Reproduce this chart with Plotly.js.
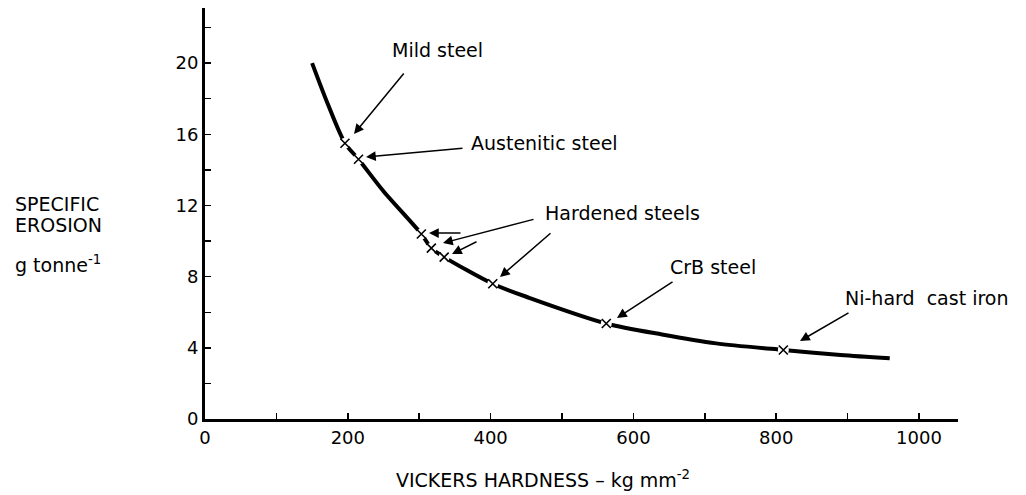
<!DOCTYPE html>
<html>
<head>
<meta charset="utf-8">
<script src="https://cdn.plot.ly/plotly-3.0.1.min.js"></script>
<style>body{margin:0;background:#fff}</style>
</head>
<body>
<div id="chart" style="width:1026px;height:495px"></div>
<script>
// Curve
const curveHardness = [150, 172, 196, 215, 250, 303, 317, 335, 403, 455, 562, 640, 716, 810, 890, 959];
const curveErosion  = [20.0, 17.7, 15.5, 14.6, 12.8, 10.4, 9.6, 9.1, 7.6, 6.8, 5.37, 4.75, 4.25, 3.88, 3.6, 3.41];

// Material points (x marks)
const materialNames    = ["Mild steel", "Austenitic steel", "Hardened steel", "Hardened steel", "Hardened steel", "Hardened steel", "CrB steel", "Ni-hard cast iron"];
const materialHardness = [196, 215, 303, 317, 335, 403, 562, 810];
const materialErosion  = [15.5, 14.6, 10.4, 9.6, 9.1, 7.6, 5.37, 3.88];

// Tick labels
const xTickVals = [0, 200, 400, 600, 800, 1000];
const yTickVals = [0, 4, 8, 12, 16, 20];

const FONT = "DejaVu Sans, Liberation Sans, Arial, sans-serif";

// plot-area geometry (pixels)
const L = 205, R = 68, T = 8, B = 76, W = 1026, H = 495;
const XMAX = 1054.6, YMAX = 23.1;
// helpers to place annotation text by picture pixel -> data
const px2x = p => (p - L) / (W - L - R) * XMAX;
const py2y = p => (1 - (p - T) / (H - T - B)) * YMAX;

const traces = [
  {x: curveHardness, y: curveErosion, mode: "lines", type: "scatter",
   line: {color: "#000", width: 4, shape: "spline", smoothing: 0.8}, hoverinfo: "skip"},
  {x: materialHardness, y: materialErosion, mode: "markers", type: "scatter",
   marker: {symbol: "circle", size: 11, color: "#fff", line: {width: 0}}, hoverinfo: "skip"},
  {x: materialHardness, y: materialErosion, mode: "markers", type: "scatter", text: materialNames,
   marker: {symbol: "x-thin", size: 9, color: "#000", line: {color: "#000", width: 1.6}}}
];

function label(text, px, py, xanchor) {
  return {text: text, x: px2x(px), y: py2y(py), xref: "x", yref: "y", showarrow: false,
          xanchor: xanchor || "left", yanchor: "middle",
          font: {family: FONT, size: 19, color: "#000"}};
}
function arrow(tx, ty, hx, hy) {
  return {text: "", x: px2x(hx), y: py2y(hy), ax: px2x(tx), ay: py2y(ty),
          xref: "x", yref: "y", axref: "x", ayref: "y",
          showarrow: true, arrowhead: 2, arrowsize: 1.3, arrowwidth: 1.5, arrowcolor: "#000",
          standoff: 0, startstandoff: 0};
}
function text(t, px, py, xanchor) {
  return {text: t, x: (px - L) / (W - L - R), y: 1 - (py - T) / (H - T - B), xref: "paper", yref: "paper",
          showarrow: false, xanchor: xanchor, yanchor: "middle", font: {family: FONT, size: 19, color: "#000"}};
}

const annotations = [
  label("Mild steel", 390, 50),
  arrow(405, 72, 354, 134),
  label("Austenitic steel", 469, 143),
  arrow(464, 148, 366, 157),
  label("Hardened steels", 543, 213),
  arrow(462, 233, 429, 233),
  arrow(535, 219, 443, 243),
  arrow(478, 241, 452, 254),
  arrow(552, 232, 500, 277),
  label("CrB steel", 668, 267),
  arrow(674, 281, 617, 318),
  label("Ni-hard&nbsp;&nbsp;cast iron", 843, 298),
  arrow(850, 312, 800, 341),
  text("SPECIFIC", 13, 204, "left"),
  text("EROSION", 13, 225, "left"),
  text("g tonne<sup>-1</sup>", 13, 264, "left"),
  text("VICKERS HARDNESS – kg mm<sup>-2</sup>", 543, 479, "center")
];

const layout = {
  width: W, height: H,
  margin: {l: L, r: R, t: T, b: B},
  paper_bgcolor: "#fff", plot_bgcolor: "#fff",
  showlegend: false,
  font: {family: FONT, color: "#000"},
  xaxis: {range: [0, XMAX], tickvals: xTickVals, ticktext: xTickVals.map(String),
          ticks: "inside", ticklen: 6, tickwidth: 1.5, tickcolor: "#000",
          minor: {tickvals: [100, 300, 500, 700, 900], ticks: "inside", ticklen: 6, tickwidth: 1.5, tickcolor: "#000"},
          showline: true, linewidth: 3, linecolor: "#000", showgrid: false, zeroline: false,
          tickfont: {family: FONT, size: 18, color: "#000"}, fixedrange: true},
  yaxis: {range: [0, YMAX], tickvals: yTickVals, ticktext: yTickVals.map(String),
          ticks: "inside", ticklen: 6, tickwidth: 1.5, tickcolor: "#000",
          minor: {tickvals: [2, 6, 10, 14, 18, 22], ticks: "inside", ticklen: 6, tickwidth: 1.5, tickcolor: "#000"},
          showline: true, linewidth: 3, linecolor: "#000", showgrid: false, zeroline: false,
          tickfont: {family: FONT, size: 18, color: "#000"}, fixedrange: true},
  annotations: annotations
};

Plotly.newPlot("chart", traces, layout, {displayModeBar: false, staticPlot: true});
</script>
</body>
</html>
